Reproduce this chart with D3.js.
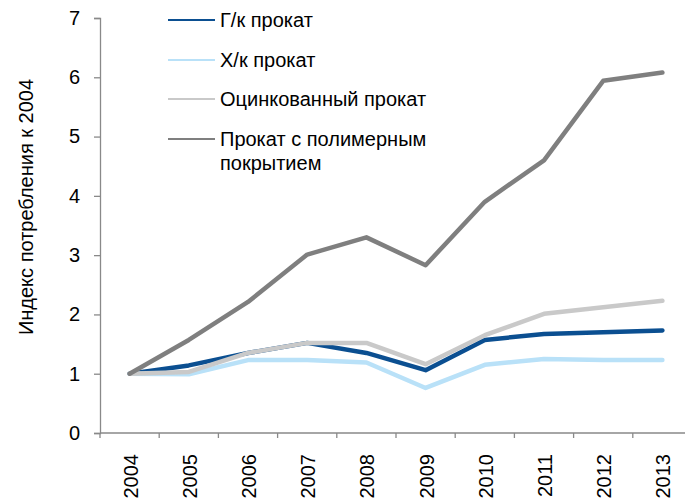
<!DOCTYPE html>
<html lang="ru">
<head>
<meta charset="UTF-8">
<title>Индекс потребления проката</title>
<script src="https://d3js.org/d3.v7.min.js"></script>
<style>
  body { margin: 0; background: #fff; }
  svg { display: block; font-family: "Liberation Sans", Arial, sans-serif; }
</style>
</head>
<body>
<div id="chart"></div>
<script>
// data
const years = ["2004", "2005", "2006", "2007", "2008", "2009", "2010", "2011", "2012", "2013"];
const hotRolled = [1.0, 1.14, 1.35, 1.52, 1.35, 1.06, 1.57, 1.67, 1.70, 1.73];
const coldRolled = [1.0, 0.99, 1.23, 1.23, 1.19, 0.76, 1.15, 1.25, 1.23, 1.23];
const galvanized = [1.0, 1.03, 1.35, 1.52, 1.52, 1.16, 1.65, 2.01, 2.12, 2.23];
const polymer = [1.0, 1.57, 2.21, 3.01, 3.30, 2.83, 3.90, 4.60, 5.94, 6.08];
const yTicks = [0, 1, 2, 3, 4, 5, 6, 7];

const series = [
  { name: ["Г/к прокат"], values: hotRolled, color: "#0b4f91" },
  { name: ["Х/к прокат"], values: coldRolled, color: "#b9e1f8" },
  { name: ["Оцинкованный прокат"], values: galvanized, color: "#c9c9c9" },
  { name: ["Прокат с полимерным", "покрытием"], values: polymer, color: "#7f7f7f" }
];

const width = 685, height = 503;
const fontSize = 20;
const svg = d3.select("#chart").append("svg")
  .attr("width", width)
  .attr("height", height);

const x = d3.scaleBand().domain(years).range([100, 692]);
const y = d3.scaleLinear().domain([0, 7]).range([433, 18]);
const axisColor = "#898989";

// y axis
const yAxis = svg.append("g")
  .attr("transform", "translate(100,0)")
  .call(d3.axisLeft(y).tickValues(yTicks).tickFormat(d3.format("d")).tickSize(6).tickPadding(14));
yAxis.select(".domain").attr("stroke", axisColor).attr("stroke-width", 1.3);
yAxis.selectAll(".tick line").attr("stroke", axisColor).attr("stroke-width", 1.3);
yAxis.selectAll(".tick text").attr("font-size", fontSize).attr("fill", "#000");

// x axis: ticks at category borders
const xAxis = svg.append("g").attr("transform", "translate(0,433)");
xAxis.append("line")
  .attr("x1", 100).attr("x2", 692)
  .attr("stroke", axisColor).attr("stroke-width", 1.3);
xAxis.selectAll("line.tk")
  .data(years)
  .join("line")
  .attr("class", "tk")
  .attr("x1", d => x(d)).attr("x2", d => x(d))
  .attr("y1", 0).attr("y2", 5)
  .attr("stroke", axisColor).attr("stroke-width", 1.3);
xAxis.selectAll("text")
  .data(years)
  .join("text")
  .attr("transform", d => `translate(${x(d) + x.bandwidth() / 2 + 8},21) rotate(-90)`)
  .attr("text-anchor", "end")
  .attr("font-size", fontSize)
  .text(d => d);

// y axis title
svg.append("text")
  .attr("transform", "translate(33,207) rotate(-90)")
  .attr("text-anchor", "middle")
  .attr("font-size", fontSize)
  .text("Индекс потребления к 2004");

// lines
const line = d3.line()
  .x((d, i) => x(years[i]) + x.bandwidth() / 2)
  .y(d => y(d));

svg.selectAll("path.series")
  .data(series)
  .join("path")
  .attr("class", "series")
  .attr("fill", "none")
  .attr("stroke", d => d.color)
  .attr("stroke-width", 4.5)
  .attr("stroke-linecap", "round")
  .attr("stroke-linejoin", "round")
  .attr("d", d => line(d.values));

// legend
const legendY = [20, 60, 99, 139];
const legend = svg.selectAll("g.legend")
  .data(series)
  .join("g")
  .attr("class", "legend")
  .attr("transform", (d, i) => `translate(168,${legendY[i]})`);
legend.append("line")
  .attr("x1", 0).attr("x2", 47)
  .attr("stroke", d => d.color)
  .attr("stroke-width", 2);
legend.append("text")
  .attr("x", 52)
  .attr("font-size", fontSize)
  .selectAll("tspan")
  .data(d => d.name)
  .join("tspan")
  .attr("x", 52)
  .attr("dy", (d, i) => i === 0 ? "0.35em" : 24)
  .text(d => d);
</script>
</body>
</html>
